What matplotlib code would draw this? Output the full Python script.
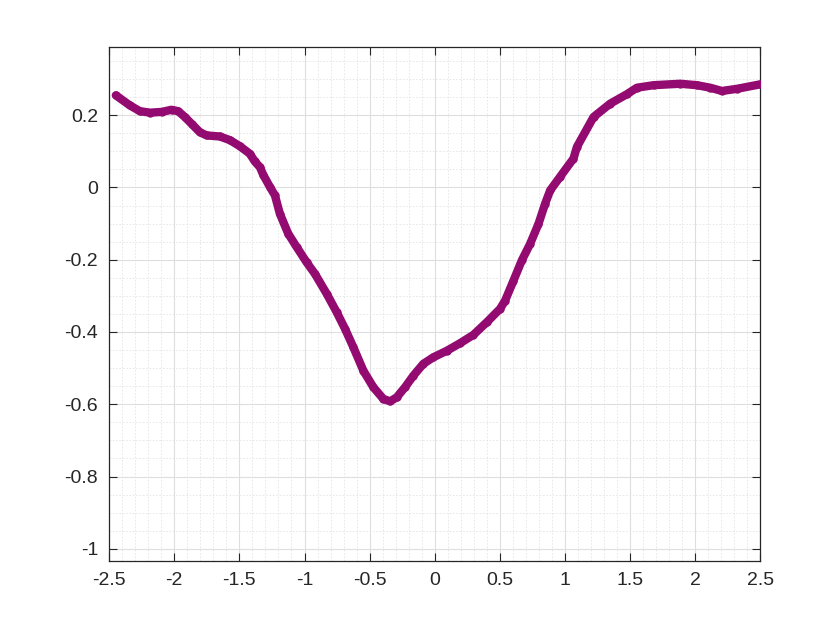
import matplotlib
matplotlib.use("Agg")
import matplotlib.pyplot as plt
from matplotlib.ticker import MultipleLocator

x_vals = [-2.449, -2.341, -2.264, -2.187, -2.098, -2.021, -1.970, -1.919, -1.867,
          -1.804, -1.752, -1.650, -1.573, -1.496, -1.419, -1.382, -1.342, -1.317,
          -1.265, -1.227, -1.189, -1.125, -1.060, -0.984, -0.920, -0.830, -0.753,
          -0.689, -0.625, -0.548, -0.471, -0.395, -0.343, -0.292, -0.228, -0.164,
          -0.087, -0.010, 0.093, 0.195, 0.297, 0.400, 0.502, 0.541, 0.605, 0.669,
          0.733, 0.797, 0.848, 0.887, 0.964, 1.066, 1.092, 1.220, 1.348, 1.476,
          1.553, 1.681, 1.886, 2.014, 2.116, 2.206, 2.322, 2.495]
y_vals = [0.255, 0.227, 0.211, 0.207, 0.209, 0.215, 0.211, 0.195, 0.176,
          0.153, 0.144, 0.141, 0.131, 0.114, 0.093, 0.072, 0.056, 0.035,
          0.001, -0.022, -0.073, -0.128, -0.165, -0.207, -0.239, -0.294, -0.345,
          -0.391, -0.442, -0.507, -0.553, -0.585, -0.592, -0.581, -0.553, -0.521,
          -0.488, -0.470, -0.452, -0.431, -0.408, -0.373, -0.336, -0.313, -0.258, -0.202,
          -0.156, -0.101, -0.045, -0.008, 0.030, 0.080, 0.112, 0.195, 0.232, 0.258,
          0.276, 0.283, 0.287, 0.283, 0.276, 0.267, 0.273, 0.285]

x_ticks = [-2.5, -2, -1.5, -1, -0.5, 0, 0.5, 1, 1.5, 2, 2.5]
x_labels = ["-2.5", "-2", "-1.5", "-1", "-0.5", "0", "0.5", "1", "1.5", "2", "2.5"]
y_ticks = [-1, -0.8, -0.6, -0.4, -0.2, 0, 0.2]
y_labels = ["-1", "-0.8", "-0.6", "-0.4", "-0.2", "0", "0.2"]

kleur = "#930a70"
tekst = "#262626"

plt.rcParams["font.family"] = ["Liberation Sans", "DejaVu Sans"]

fig = plt.figure(figsize=(8.4, 6.3), dpi=100)
ax = fig.add_axes([0.13, 0.11, 0.775, 0.815])

ax.plot(x_vals, y_vals, "-", color=kleur, lw=6, solid_capstyle="round",
        solid_joinstyle="round", zorder=3)
ax.plot(x_vals, y_vals, "o", color=kleur, ms=6, mew=0, zorder=3)

ax.set_xlim(-2.5, 2.5)
ax.set_ylim(-1.033, 0.388)
ax.set_xticks(x_ticks)
ax.set_xticklabels(x_labels)
ax.set_yticks(y_ticks)
ax.set_yticklabels(y_labels)
ax.xaxis.set_minor_locator(MultipleLocator(0.1))
ax.yaxis.set_minor_locator(MultipleLocator(0.05))

ax.grid(which="major", color="#dedede", lw=0.8, ls="-", zorder=0)
ax.grid(which="minor", color="#e4e4e4", lw=0.6, ls=(0, (2, 2)), zorder=0)
ax.set_axisbelow(True)

ax.tick_params(which="major", direction="in", length=6, width=0.8, top=True, right=True,
               colors=tekst, labelsize=14, pad=8)
ax.tick_params(which="minor", length=0, top=True, right=True)
for s in ax.spines.values():
    s.set_color(tekst)
    s.set_linewidth(0.9)

fig.savefig("out.png", dpi=100, facecolor="white")
